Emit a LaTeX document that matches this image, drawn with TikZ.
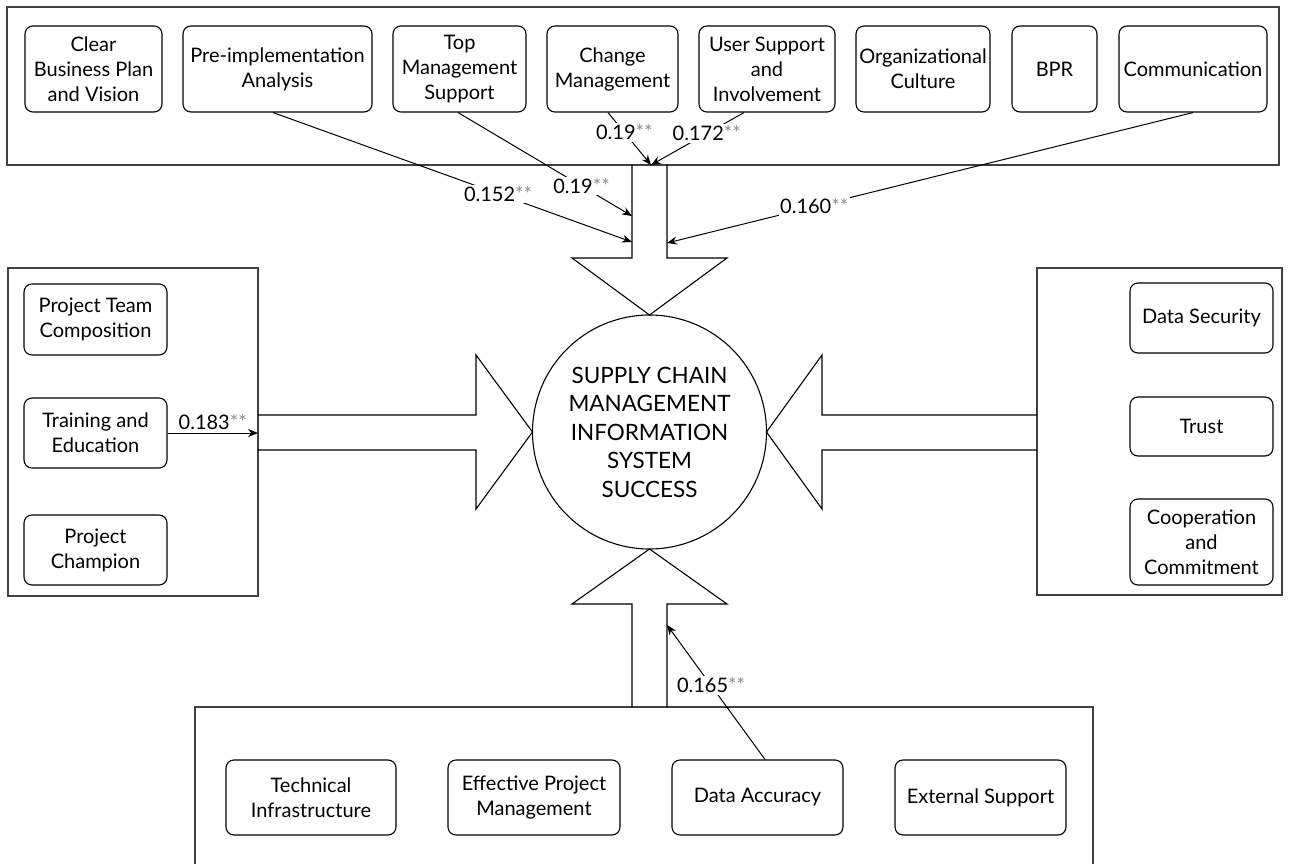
\documentclass[tikz,border=0pt]{standalone}
\usepackage{fontspec}
\setmainfont{Lato}
\usetikzlibrary{arrows.meta,calc}
\newcommand{\mystars}{{\color{black!45}**}}
\tikzset{
  outer/.style={draw=black!75, line width=1.4pt},
  fbox/.style={draw, rounded corners=8pt, line width=1.1pt, align=center,
    font=\fontsize{20}{25}\selectfont, inner sep=0pt},
  big/.style={draw, line width=1.1pt},
  conn/.style={line width=1pt, -{Stealth[length=10pt,width=8pt]}},
  lbl/.style={fill=white, inner sep=1.5pt, font=\fontsize{20}{24}\selectfont},
}
\begin{document}
\begin{tikzpicture}[x=1pt,y=-1pt]
\fill[white] (0,0) rectangle (1291,864);
\useasboundingbox (0,0) rectangle (1291,864);

% outer boxes
\draw[outer] (7,7) rectangle (1279,165);
\draw[outer] (8,268) rectangle (258,596);
\draw[outer] (1037,268) rectangle (1282,595);
\draw[outer] (195,866) -- (195,707) -- (1093,707) -- (1093,866);

% top factor boxes
\node[fbox, minimum width=137pt, minimum height=86pt] (clear) at (93.5,69) {Clear\\Business Plan\\and Vision};
\node[fbox, minimum width=189pt, minimum height=86pt] (pre) at (277.5,69) {Pre-implementation\\Analysis};
\node[fbox, minimum width=133pt, minimum height=86pt] (topm) at (459.5,69) {Top\\Management\\Support};
\node[fbox, minimum width=131pt, minimum height=86pt] (chg) at (612.5,69) {Change\\Management};
\node[fbox, minimum width=136pt, minimum height=86pt] (user) at (767,69) {User Support\\and\\Involvement};
\node[fbox, minimum width=134pt, minimum height=86pt] (org) at (923,69) {Organizational\\Culture};
\node[fbox, minimum width=85pt, minimum height=86pt] (bpr) at (1054.5,69) {BPR};
\node[fbox, minimum width=148pt, minimum height=86pt] (comm) at (1193,69) {Communication};

% left boxes
\node[fbox, minimum width=143pt, minimum height=71pt] (team) at (95.5,319.5) {Project Team\\Composition};
\node[fbox, minimum width=143pt, minimum height=70pt] (train) at (95.5,433) {Training and\\Education};
\node[fbox, minimum width=143pt, minimum height=70pt] (champ) at (95.5,550) {Project\\Champion};

% right boxes
\node[fbox, minimum width=143pt, minimum height=70pt] (sec) at (1201.5,318) {Data Security};
\node[fbox, minimum width=143pt, minimum height=59pt] (trust) at (1201.5,426.5) {Trust};
\node[fbox, minimum width=143pt, minimum height=86pt] (coop) at (1201.5,542) {Cooperation\\and\\Commitment};

% bottom boxes
\node[fbox, minimum width=170pt, minimum height=75pt] (tech) at (311,797.5) {Technical\\Infrastructure};
\node[fbox, minimum width=172pt, minimum height=75pt] (epm) at (534,797.5) {Effective Project\\Management};
\node[fbox, minimum width=171pt, minimum height=75pt] (da) at (757.5,797.5) {Data Accuracy};
\node[fbox, minimum width=171pt, minimum height=75pt] (ext) at (980.5,797.5) {External Support};

% block arrows
\draw[big] (632,165) -- (632,258) -- (572,258) -- (649.5,315) -- (727,258) -- (667,258) -- (667,165);
\draw[big] (632,707) -- (632,604) -- (572,604) -- (649.5,549) -- (727,604) -- (667,604) -- (667,707);
\draw[big] (258,415) -- (476,415) -- (476,355) -- (532.5,432) -- (476,509) -- (476,450) -- (258,450);
\draw[big] (1037,415) -- (822,415) -- (822,355) -- (766.5,432) -- (822,509) -- (822,450) -- (1037,450);

% centre circle
\node[draw, circle, minimum size=234pt, inner sep=0pt, line width=1.1pt, align=center,
  font=\fontsize{22.5}{28.5}\selectfont] (c) at (649.5,432)
  {SUPPLY CHAIN\\MANAGEMENT\\INFORMATION\\SYSTEM\\SUCCESS};

% connector end points
\coordinate (t1) at (632,242);
\coordinate (t2) at (632,216);
\coordinate (t3) at (651,165);
\coordinate (t4) at (667,243);
\coordinate (t5) at (258,433);
\coordinate (b1) at (667,625);

% connectors
\draw[conn] ($(pre.south)+(-4.5,0)$) -- node[lbl,pos=0.627] {0.152\mystars} (t1);
\draw[conn] ($(topm.south)+(-1.5,0)$) -- node[lbl,pos=0.71] {0.19\mystars} (t2);
\draw[conn] ($(chg.south)+(-4.5,0)$) -- node[lbl,pos=0.38] {0.19\mystars} (t3);
\draw[conn] ($(user.south)+(-23,0)$) -- node[lbl,pos=0.40] {0.172\mystars} (t3);
\draw[conn] (comm.south) -- node[lbl,pos=0.72] {0.160\mystars} (t4);
\draw[conn] (train.east) -- node[lbl,above=1pt,fill=none] {0.183\mystars} (t5);
\draw[conn] ($(da.north)+(7.5,0)$) -- node[lbl,pos=0.55] {0.165\mystars} (b1);
\end{tikzpicture}
\end{document}
